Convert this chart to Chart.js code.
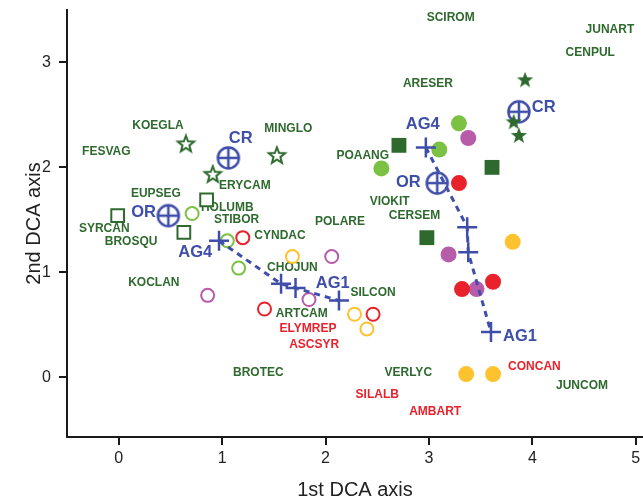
<!DOCTYPE html>
<html>
<head>
<meta charset="utf-8">
<script src="https://cdn.jsdelivr.net/npm/chart.js@4"></script>
<style>
  html, body { margin: 0; padding: 0; background: #fff; }
  #wrap { width: 643px; height: 503px; }
</style>
</head>
<body>
<div id="wrap"><canvas id="myChart"></canvas></div>
<script>
// sample scores [DCA1, DCA2]
var openSquares = [[-0.01, 1.54], [0.85, 1.69], [0.63, 1.38]];
var openStars = [[0.65, 2.22], [0.91, 1.93], [1.53, 2.11]];
var openGreen = [[0.71, 1.56], [1.05, 1.30], [1.16, 1.04]];
var openRed = [[1.20, 1.33], [1.41, 0.65], [2.46, 0.60]];
var openYellow = [[1.68, 1.15], [2.28, 0.60], [2.40, 0.46]];
var openMagenta = [[2.06, 1.15], [0.86, 0.78], [1.84, 0.74]];
var filledSquares = [[2.71, 2.21], [3.61, 2.00], [2.98, 1.33]];
var filledStars = [[3.93, 2.83], [3.82, 2.43], [3.87, 2.30]];
var filledGreen = [[3.29, 2.42], [3.10, 2.17], [2.54, 1.99]];
var filledRed = [[3.29, 1.85], [3.32, 0.84], [3.62, 0.91]];
var filledYellow = [[3.81, 1.29], [3.36, 0.03], [3.62, 0.03]];
var filledMagenta = [[3.38, 2.28], [3.19, 1.17], [3.46, 0.84]];
// AG4 -> AG1 trajectories and CR / OR centroids
var trackLeft = [[0.97, 1.30], [1.57, 0.89], [1.71, 0.85], [2.13, 0.73]];
var trackRight = [[2.97, 2.19], [3.37, 1.43], [3.38, 1.19], [3.60, 0.43]];
var centroids = [[0.48, 1.54], [1.06, 2.09], [3.08, 1.85], [3.87, 2.53]];

// species scores
var speciesNames = ['KOEGLA', 'FESVAG', 'MINGLO', 'ERYCAM', 'EUPSEG', 'HOLUMB', 'STIBOR', 'SYRCAN',
  'POLARE', 'BROSQU', 'CYNDAC', 'CHOJUN', 'KOCLAN', 'ARTCAM', 'ELYMREP', 'ASCSYR', 'BROTEC',
  'SILCON', 'VERLYC', 'SILALB', 'AMBART', 'CONCAN', 'JUNCOM', 'SCIROM', 'JUNART', 'CENPUL',
  'ARESER', 'POAANG', 'VIOKIT', 'CERSEM'];
var speciesX = [0.38, -0.12, 1.64, 1.22, 0.36, 1.05, 1.14, -0.14,
  2.14, 0.12, 1.56, 1.68, 0.34, 1.77, 1.83, 1.89, 1.35,
  2.46, 2.80, 2.50, 3.06, 4.02, 4.48, 3.21, 4.75, 4.56,
  2.99, 2.36, 2.62, 2.86];
var speciesY = [2.40, 2.15, 2.37, 1.83, 1.75, 1.62, 1.50, 1.42,
  1.48, 1.29, 1.35, 1.04, 0.90, 0.61, 0.46, 0.31, 0.04,
  0.81, 0.04, -0.17, -0.33, 0.10, -0.08, 3.43, 3.31, 3.09,
  2.80, 2.11, 1.67, 1.54];
var redSpecies = ['ELYMREP', 'ASCSYR', 'SILALB', 'AMBART', 'CONCAN'];

var groupNames = ['CR', 'OR', 'AG4', 'AG1', 'AG4', 'CR', 'OR', 'AG1'];
var groupX = [1.18, 0.24, 0.74, 2.07, 2.94, 4.11, 2.80, 3.88];
var groupY = [2.28, 1.57, 1.19, 0.89, 2.41, 2.57, 1.86, 0.39];

var xTicks = [0, 1, 2, 3, 4, 5];
var yTicks = [0, 1, 2, 3];

var DKGREEN = '#2e6a2e', LTGREEN = '#7bc143', RED = '#e8212b',
    YELLOW = '#fdc22e', MAGENTA = '#b65ca9', BLUE = '#3f4ea8';
var FONT = '"Liberation Sans", Arial, sans-serif';

function pts(arr) {
  return arr.map(function (p) { return { x: p[0], y: p[1] }; });
}

function makeStar(filled) {
  var c = document.createElement('canvas');
  c.width = 22; c.height = 22;
  var g = c.getContext('2d');
  g.beginPath();
  for (var i = 0; i < 10; i++) {
    var r = i % 2 === 0 ? 8.5 : 3.6;
    var a = -Math.PI / 2 + i * Math.PI / 5;
    g.lineTo(11 + r * Math.cos(a), 11 + r * Math.sin(a));
  }
  g.closePath();
  if (filled) {
    g.fillStyle = DKGREEN; g.fill();
  } else {
    g.strokeStyle = DKGREEN; g.lineWidth = 2; g.lineJoin = 'miter'; g.stroke();
  }
  return c;
}

function makeCirclePlus() {
  var c = document.createElement('canvas');
  c.width = 28; c.height = 28;
  var g = c.getContext('2d');
  g.strokeStyle = BLUE; g.lineWidth = 2.5;
  g.beginPath(); g.arc(14, 14, 10.5, 0, Math.PI * 2); g.stroke();
  g.beginPath();
  g.moveTo(3.5, 14); g.lineTo(24.5, 14);
  g.moveTo(14, 3.5); g.lineTo(14, 24.5);
  g.stroke();
  return c;
}

function scatter(data, style) {
  var ds = { data: pts(data), showLine: false, pointBorderWidth: 2, pointRotation: 0 };
  for (var k in style) ds[k] = style[k];
  return ds;
}

var labelPlugin = {
  id: 'labels',
  beforeDatasetsDraw: function (chart) {
    var ctx = chart.ctx, xs = chart.scales.x, ys = chart.scales.y;
    ctx.save();
    ctx.textAlign = 'center';
    ctx.textBaseline = 'middle';
    ctx.font = 'bold 12px ' + FONT;
    speciesNames.forEach(function (n, i) {
      ctx.fillStyle = redSpecies.indexOf(n) >= 0 ? RED : DKGREEN;
      ctx.fillText(n, xs.getPixelForValue(speciesX[i]), ys.getPixelForValue(speciesY[i]));
    });
    ctx.font = 'bold 16.5px ' + FONT;
    ctx.fillStyle = BLUE;
    groupNames.forEach(function (n, i) {
      ctx.fillText(n, xs.getPixelForValue(groupX[i]), ys.getPixelForValue(groupY[i]));
    });
    ctx.restore();
  }
};

var ctx = document.getElementById('myChart').getContext('2d');
// eslint-disable-next-line no-unused-vars
var myChart = new Chart(ctx, {
  type: 'scatter',
  data: {
    datasets: [
      scatter(trackLeft, { showLine: true, borderColor: BLUE, borderWidth: 3, borderDash: [6, 5],
        pointStyle: 'cross', pointRadius: 10, pointBorderColor: BLUE, pointBorderWidth: 2.5 }),
      scatter(trackRight, { showLine: true, borderColor: BLUE, borderWidth: 3, borderDash: [6, 5],
        pointStyle: 'cross', pointRadius: 10, pointBorderColor: BLUE, pointBorderWidth: 2.5 }),
      scatter(openSquares, { pointStyle: 'rect', pointRadius: 9, pointBackgroundColor: '#fff', pointBorderColor: DKGREEN }),
      scatter(openStars, { pointStyle: makeStar(false) }),
      scatter(openGreen, { pointStyle: 'circle', pointRadius: 6.5, pointBackgroundColor: 'rgba(255,255,255,0)', pointBorderColor: LTGREEN }),
      scatter(openRed, { pointStyle: 'circle', pointRadius: 6.5, pointBackgroundColor: '#fff', pointBorderColor: RED }),
      scatter(openYellow, { pointStyle: 'circle', pointRadius: 6.5, pointBackgroundColor: '#fff', pointBorderColor: YELLOW }),
      scatter(openMagenta, { pointStyle: 'circle', pointRadius: 6.5, pointBackgroundColor: '#fff', pointBorderColor: MAGENTA }),
      scatter(filledSquares, { pointStyle: 'rect', pointRadius: 10.5, pointBackgroundColor: DKGREEN, pointBorderColor: DKGREEN, pointBorderWidth: 0 }),
      scatter(filledStars, { pointStyle: makeStar(true) }),
      scatter(filledGreen, { pointStyle: 'circle', pointRadius: 8, pointBackgroundColor: LTGREEN, pointBorderWidth: 0 }),
      scatter(filledRed, { pointStyle: 'circle', pointRadius: 8, pointBackgroundColor: RED, pointBorderWidth: 0 }),
      scatter(filledYellow, { pointStyle: 'circle', pointRadius: 8, pointBackgroundColor: YELLOW, pointBorderWidth: 0 }),
      scatter(filledMagenta, { pointStyle: 'circle', pointRadius: 8, pointBackgroundColor: MAGENTA, pointBorderWidth: 0 }),
      scatter(centroids, { pointStyle: makeCirclePlus() })
    ]
  },
  options: {
    responsive: true,
    maintainAspectRatio: false,
    animation: false,
    events: [],
    layout: { autoPadding: false, padding: { top: 10, right: 0, left: 0, bottom: 0 } },
    plugins: { legend: { display: false }, tooltip: { enabled: false } },
    scales: {
      x: {
        type: 'linear',
        min: -0.5,
        max: 5.07,
        afterBuildTicks: function (s) { s.ticks = xTicks.map(function (v) { return { value: v }; }); },
        afterFit: function (s) { s.height = 66; s.paddingLeft = 0; s.paddingRight = 0; },
        border: { display: true, color: '#1a1a1a', width: 2 },
        grid: { display: true, drawOnChartArea: false, drawTicks: true, tickLength: 8, color: '#1a1a1a', lineWidth: 2 },
        ticks: { color: '#222', font: { family: FONT, size: 16 }, padding: 4, maxRotation: 0 },
        title: { display: true, text: '1st DCA axis', color: '#222', font: { family: FONT, size: 20 }, padding: { top: 8, bottom: 1 } }
      },
      y: {
        type: 'linear',
        min: -0.57,
        max: 3.5,
        afterBuildTicks: function (s) { s.ticks = yTicks.map(function (v) { return { value: v }; }); },
        afterFit: function (s) { s.width = 67; s.paddingTop = 0; s.paddingBottom = 0; },
        border: { display: true, color: '#1a1a1a', width: 2 },
        grid: { display: true, drawOnChartArea: false, drawTicks: true, tickLength: 8, color: '#1a1a1a', lineWidth: 2 },
        ticks: { color: '#222', font: { family: FONT, size: 16 }, padding: 8 },
        title: { display: true, text: '2nd DCA axis', color: '#222', font: { family: FONT, size: 20 }, padding: { top: 22, bottom: 2 } }
      }
    }
  },
  plugins: [labelPlugin]
});
</script>
</body>
</html>
